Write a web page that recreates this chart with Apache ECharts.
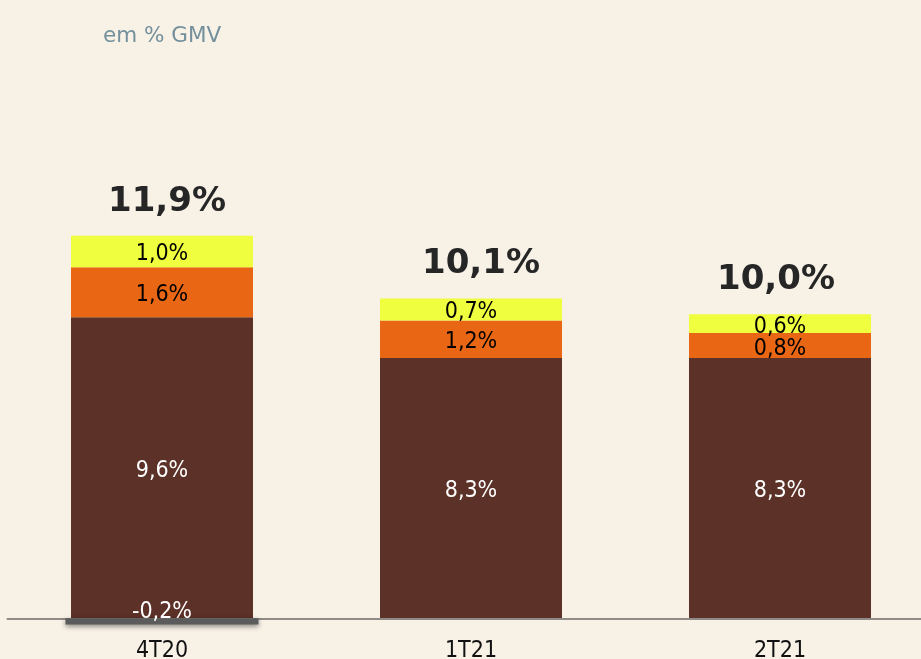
<!DOCTYPE html>
<html>
<head>
<meta charset="utf-8">
<script src="https://cdn.jsdelivr.net/npm/echarts@6/dist/echarts.min.js"></script>
<style>
html,body{margin:0;padding:0;background:#f7f1e6;}
#chart{width:921px;height:659px;}
</style>
</head>
<body>
<div id="chart"></div>
<script>
const categories = ['4T20', '1T21', '2T21'];
const baseValues = [9.6, 8.3, 8.3];
const midValues = [1.6, 1.2, 0.8];
const topValues = [1.0, 0.7, 0.6];
const negValues = [-0.2, null, null];
const totalLabels = ['11,9%', '10,1%', '10,0%'];
const subtitle = 'em % GMV';

const fmt = v => (v < 0 ? '-' : '') + Math.abs(v).toFixed(1).replace('.', ',') + '%';
const condensed = '"DejaVu Sans Condensed", "DejaVu Sans", sans-serif';
const totalNudge = [5, 10, -4];

const chart = echarts.init(document.getElementById('chart'), null, {renderer: 'canvas'});
const option = {
  backgroundColor: '#f7f1e6',
  animation: false,
  title: {
    text: subtitle,
    left: 98,
    top: 20,
    textStyle: {fontFamily: '"DejaVu Sans", sans-serif', fontSize: 21.5, fontWeight: 'normal', color: '#74909d'}
  },
  grid: {left: 7.5, top: 148, right: -13.5, bottom: 25, containLabel: false, outerBoundsMode: 'none'},
  xAxis: [{
    type: 'category',
    data: categories,
    axisLine: {onZero: true, lineStyle: {color: '#8f8c88', width: 2}},
    axisTick: {show: false},
    axisLabel: {color: '#111', fontFamily: condensed, fontSize: 23, margin: 6},
    z: 10
  }, {
    type: 'category',
    data: categories,
    show: false
  }],
  yAxis: {
    type: 'value', min: -0.5, max: 15, show: false,
    splitLine: {show: false}
  },
  series: [{
    type: 'bar', stack: 'g', data: baseValues, barWidth: 182,
    itemStyle: {color: '#5c3127'},
    label: {show: true, position: 'inside', offset: [0, 3], color: '#ffffff', fontFamily: condensed, fontSize: 23, formatter: p => fmt(p.value)}
  }, {
    type: 'bar', stack: 'g', data: midValues,
    itemStyle: {color: '#e96714'},
    label: {show: true, position: 'inside', offset: [0, 3], color: '#000', fontFamily: condensed, fontSize: 23, formatter: p => fmt(p.value)}
  }, {
    type: 'bar', stack: 'g', data: topValues,
    itemStyle: {color: '#effe3e'},
    label: {show: true, position: 'inside', offset: [0, 3], color: '#000', fontFamily: condensed, fontSize: 23, formatter: p => fmt(p.value)}
  }, {
    type: 'bar', stack: 'g',
    data: categories.map((c, i) => ({value: 0, label: {offset: [totalNudge[i], 0]}})),
    itemStyle: {color: 'transparent'},
    label: {show: true, position: 'top', distance: 17, color: '#262626', fontFamily: '"DejaVu Sans", sans-serif', fontWeight: 'bold', fontSize: 34,
      formatter: p => totalLabels[p.dataIndex]}
  }, {
    type: 'bar', xAxisIndex: 1, data: negValues, barWidth: 193, z: 12,
    itemStyle: {color: '#5b5b5b', shadowBlur: 5, shadowColor: 'rgba(0,0,0,0.45)', shadowOffsetY: 2},
    label: {show: true, position: 'inside', offset: [0, -9], color: '#ffffff', fontFamily: condensed, fontSize: 23, formatter: p => fmt(p.value)}
  }]
};
chart.setOption(option);
</script>
</body>
</html>
